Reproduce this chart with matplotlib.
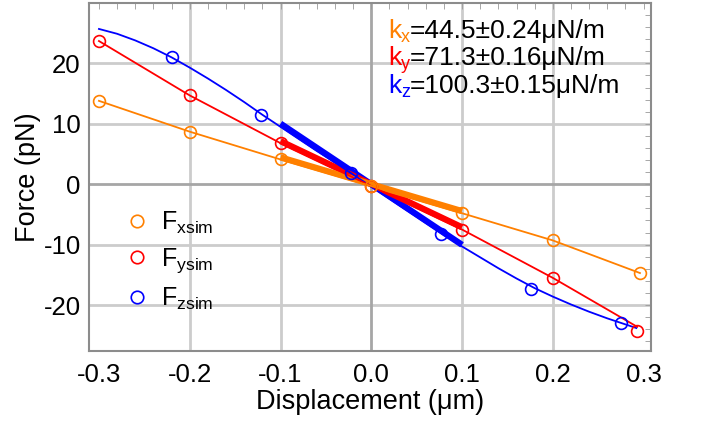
import matplotlib
matplotlib.use("Agg")
import matplotlib.pyplot as plt
from matplotlib.lines import Line2D
from matplotlib.ticker import MultipleLocator

plt.rcParams['font.family'] = ['Liberation Sans', 'DejaVu Sans']
plt.rcParams['mathtext.fontset'] = 'custom'
plt.rcParams['mathtext.rm'] = 'Liberation Sans'
plt.rcParams['mathtext.it'] = 'Liberation Sans'

# --- data ---
x_pts = [-0.3, -0.2, -0.1, 0.0, 0.1, 0.2, 0.296]
fx_pts = [13.8, 8.7, 4.1, -0.3, -4.8, -9.3, -14.7]

xy_pts = [-0.3, -0.2, -0.1, 0.0, 0.1, 0.2, 0.293]
fy_pts = [23.7, 14.7, 6.8, -0.3, -7.5, -15.5, -24.3]
fy_line = [23.7, 14.7, 6.8, -0.3, -7.5, -15.5, -23.6]

xz_pts = [-0.219, -0.121, -0.022, 0.077, 0.176, 0.275]
fz_pts = [21.0, 11.5, 1.8, -8.3, -17.3, -23.0]

# fitted curve for z
xz_curve = [-0.30, -0.28, -0.26, -0.24, -0.22, -0.20, -0.18, -0.16, -0.14, -0.12,
            -0.10, -0.08, -0.06, -0.04, -0.02, 0.00, 0.02, 0.04, 0.06, 0.08,
            0.10, 0.12, 0.14, 0.16, 0.18, 0.20, 0.22, 0.24, 0.26, 0.28, 0.292]
fz_curve = [25.7, 24.9, 23.8, 22.5, 21.0, 19.3, 17.5, 15.6, 13.6, 11.5,
            9.5, 7.5, 5.5, 3.6, 1.6, -0.4, -2.4, -4.4, -6.4, -8.4,
            -10.3, -12.1, -13.9, -15.6, -17.2, -18.6, -19.9, -21.1, -22.2, -23.2, -23.8]

# linear fits around zero
fit_x = [-0.1, 0.1]
fit_fx = [4.45, -4.45]
fit_fy = [7.13, -7.13]
fit_fz = [10.03, -10.03]

ORANGE = '#ff8000'
RED = '#ff0000'
BLUE = '#0000ff'

k_labels = [('x', '=44.5±0.24μN/m', ORANGE),
            ('y', '=71.3±0.16μN/m', RED),
            ('z', '=100.3±0.15μN/m', BLUE)]

fig = plt.figure(figsize=(7.05, 4.24), dpi=100)
ax = fig.add_axes([0.1262, 0.1722, 0.797, 0.8208])

# grid
for gx in [-0.2, -0.1, 0.1, 0.2]:
    ax.axvline(gx, color='#cccccc', lw=2, zorder=0)
for gy in [-20, -10, 10, 20]:
    ax.axhline(gy, color='#cccccc', lw=2, zorder=0)
ax.axvline(0, color='#a6a6a6', lw=2, zorder=0)
ax.axhline(0, color='#a6a6a6', lw=2, zorder=0)

# thick linear fits
ax.plot(fit_x, fit_fz, color=BLUE, lw=4.5, solid_capstyle='butt', zorder=2)
ax.plot(fit_x, fit_fy, color=RED, lw=4.5, solid_capstyle='butt', zorder=2)
ax.plot(fit_x, fit_fx, color=ORANGE, lw=4.5, solid_capstyle='butt', zorder=2)

# thin lines
ax.plot(xz_curve, fz_curve, color=BLUE, lw=1.3, zorder=3)
ax.plot(xy_pts, fy_line, color=RED, lw=1.3, zorder=3)
ax.plot(x_pts, fx_pts, color=ORANGE, lw=1.3, zorder=3)

# markers
mk = dict(marker='o', ls='none', mfc='none', ms=8.5, mew=1.2, zorder=4)
ax.plot(xz_pts, fz_pts, mec=BLUE, **mk)
ax.plot(xy_pts, fy_pts, mec=RED, **mk)
ax.plot(x_pts, fx_pts, mec=ORANGE, **mk)

ax.set_xlim(-0.311, 0.308)
ax.set_ylim(-27.6, 30.0)
ax.set_xticks([-0.3, -0.2, -0.1, 0.0, 0.1, 0.2, 0.3])
ax.set_xticklabels(['-0.3', '-0.2', '-0.1', '0.0', '0.1', '0.2', '0.3'])
ax.set_yticks([-20, -10, 0, 10, 20])
ax.set_yticklabels(['-20', '-10', '0', '10', '20'])
ax.tick_params(axis='x', which='major', length=0, labelsize=18.5, pad=9)
ax.tick_params(axis='y', which='major', length=0, labelsize=18.5, pad=6)
for s in ax.spines.values():
    s.set_color('#8c8c8c')
    s.set_linewidth(1.5)

# minor ticks on top and right only
sec_x = ax.secondary_xaxis('top')
sec_x.set_xticks([])
sec_x.xaxis.set_minor_locator(MultipleLocator(0.02))
sec_x.tick_params(which='minor', direction='in', length=4, color='#999999')
sec_x.spines['top'].set_visible(False)
sec_y = ax.secondary_yaxis('right')
sec_y.set_yticks([])
sec_y.yaxis.set_minor_locator(MultipleLocator(2))
sec_y.tick_params(which='minor', direction='in', length=4, color='#999999')
sec_y.spines['right'].set_visible(False)

ax.set_xlabel('Displacement (μm)', fontsize=19.5, labelpad=1)
ax.set_ylabel('Force (pN)', fontsize=19.5, labelpad=2)

# legend
handles = [Line2D([], [], marker='o', ls='none', mfc='none', mec=c, ms=9, mew=1.2)
           for c in [ORANGE, RED, BLUE]]
labels = [r'F$_{\mathrm{xsim}}$', r'F$_{\mathrm{ysim}}$', r'F$_{\mathrm{zsim}}$']
ax.legend(handles, labels, frameon=False, fontsize=18, loc='upper left',
          bbox_to_anchor=(0.012, 0.47), handletextpad=0.2, labelspacing=0.42,
          handlelength=1.5)

# spring constants: coloured k with subscript, then black value
ys = [0.899, 0.822, 0.741]
for (sub, rest, c), yy in zip(k_labels, ys):
    tk = ax.text(0.532, yy, 'k', color=c, fontsize=19,
                 transform=ax.transAxes, va='baseline', ha='left')
    ts = ax.annotate(sub, xy=(1, yy), xycoords=(tk, 'axes fraction'),
                     xytext=(0, -3), textcoords='offset points',
                     fontsize=13, color=c, va='baseline', ha='left')
    ax.annotate(rest, xy=(1, yy), xycoords=(ts, 'axes fraction'), fontsize=19,
                color='black', va='baseline', ha='left')

fig.savefig('out.png', dpi=100)
